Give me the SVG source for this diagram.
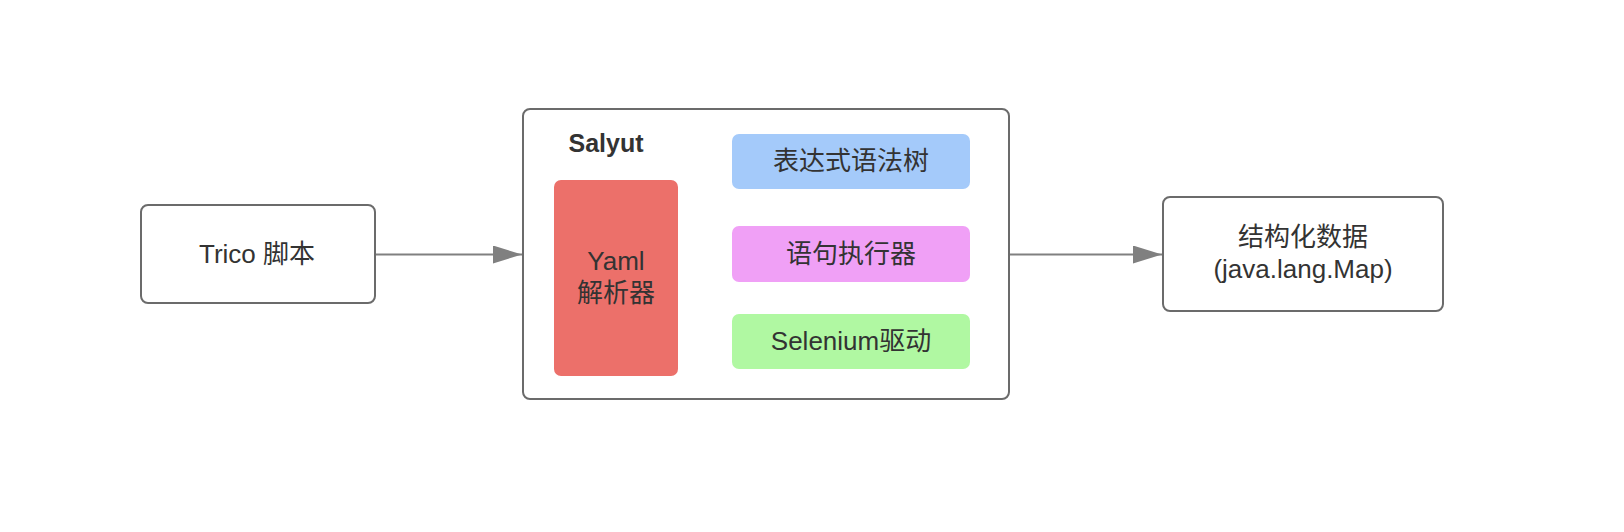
<svg xmlns="http://www.w3.org/2000/svg" width="1624" height="532" viewBox="0 0 1624 532">
<style>
.box{fill:#ffffff;stroke:#6b6b6b;stroke-width:2}
.t{font-family:"Liberation Sans","Noto Sans CJK SC",sans-serif;font-size:26px;fill:#333333;text-anchor:middle}
.b{font-weight:bold;font-size:25px}
.edge{stroke:#808080;stroke-width:2;fill:none}
</style>
<defs>
<marker id="arr" markerWidth="30" markerHeight="20" refX="29" refY="9" orient="auto" markerUnits="userSpaceOnUse">
<path d="M0,0 L29,9 L0,18 Z" fill="#808080"/>
</marker>
</defs>
<rect width="1624" height="532" fill="#ffffff"/>
<g id="connectors">
<line class="edge" x1="376" y1="254.5" x2="522" y2="254.5" marker-end="url(#arr)"/>
<line class="edge" x1="1010" y1="254.5" x2="1162" y2="254.5" marker-end="url(#arr)"/>
</g>
<g id="trico">
<rect class="box" x="141" y="205" width="234" height="98" rx="7"/>
<text class="t" x="257" y="263">Trico 脚本</text>
</g>
<g id="salyut">
<rect class="box" x="523" y="109" width="486" height="290" rx="7"/>
<text class="t b" x="606" y="152">Salyut</text>
</g>
<g id="yaml">
<rect x="554" y="180" width="124" height="196" rx="7" fill="#ec706a"/>
<text class="t" x="616" y="270">Yaml</text>
<text class="t" x="616" y="302">解析器</text>
</g>
<g id="expr">
<rect x="732" y="134" width="238" height="55" rx="7" fill="#a4cafa"/>
<text class="t" x="851" y="170">表达式语法树</text>
</g>
<g id="stmt">
<rect x="732" y="226" width="238" height="56" rx="7" fill="#f0a0f6"/>
<text class="t" x="851" y="263">语句执行器</text>
</g>
<g id="selenium">
<rect x="732" y="314" width="238" height="55" rx="7" fill="#b0f8a2"/>
<text class="t" x="851" y="350">Selenium驱动</text>
</g>
<g id="data">
<rect class="box" x="1163" y="197" width="280" height="114" rx="7"/>
<text class="t" x="1303" y="246">结构化数据</text>
<text class="t" x="1303" y="278">(java.lang.Map)</text>
</g>
</svg>
